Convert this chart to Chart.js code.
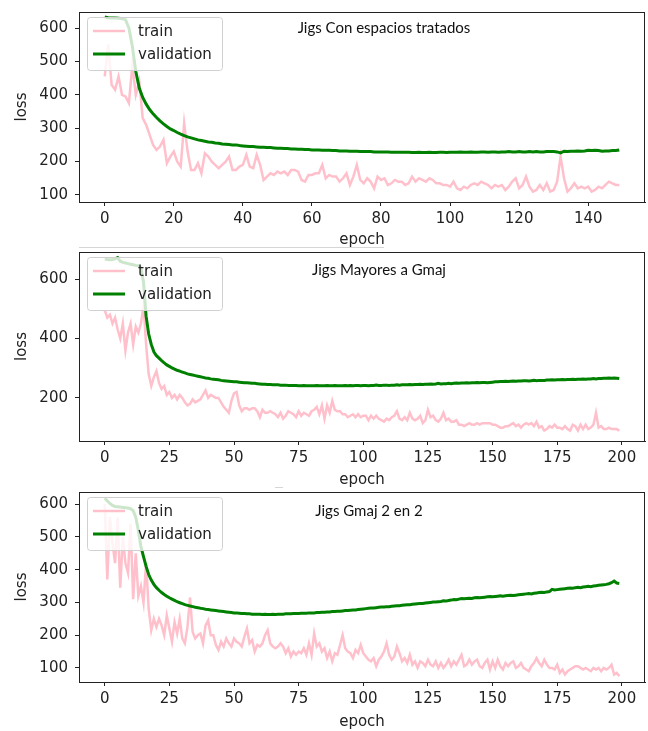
<!DOCTYPE html>
<html lang="es">
<head>
  <meta charset="UTF-8">
  <title>Jigs loss</title>
  <script src="https://cdn.jsdelivr.net/npm/chart.js"></script>
  <style>
    body {
      margin: 0;
      background: #fff;
      width: 648px;
      height: 731px;
      position: relative;
      overflow: hidden;
    }
    canvas {
      position: absolute;
      left: 0;
    }
    #c1 { top: 0; }
    #c2 { top: 250px; }
    #c3 { top: 490px; }
    .artefacto {
      position: absolute;
      background: #d6d6d6;
      height: 1px;
    }
  </style>
</head>
<body>
  <canvas id="c1" width="648" height="250"></canvas>
  <canvas id="c2" width="648" height="240"></canvas>
  <canvas id="c3" width="648" height="241"></canvas>
  <div class="artefacto" style="left:79px; top:247px; width:305px;"></div>
  <div class="artefacto" style="left:275px; top:487px; width:8px;"></div>

  <script>
    // Jigs Con espacios tratados (150 epochs)
    const trainCon = [
      455, 550, 430, 415, 455, 400, 395, 375, 490, 400,
      440, 330, 310, 280, 250, 235, 245, 265, 195, 215,
      230, 200, 185, 315, 230, 175, 175, 195, 165, 225,
      215, 200, 190, 180, 190, 200, 215, 175, 175, 185,
      190, 220, 185, 180, 220, 190, 145, 155, 165, 160,
      170, 165, 170, 160, 175, 175, 170, 145, 140, 160,
      160, 165, 165, 190, 150, 160, 155, 155, 140, 150,
      165, 130, 155, 190, 145, 135, 150, 140, 120, 155,
      145, 150, 130, 135, 145, 140, 140, 130, 135, 155,
      140, 150, 145, 140, 150, 145, 135, 135, 130, 130,
      125, 140, 120, 115, 125, 120, 130, 135, 130, 140,
      135, 130, 120, 130, 125, 130, 115, 125, 140, 150,
      120, 130, 155, 125, 110, 115, 130, 115, 135, 110,
      115, 140, 215, 150, 110, 120, 135, 120, 125, 120,
      125, 110, 115, 125, 120, 130, 140, 135, 130, 130
    ];
    const valCon = [
      633, 631, 630, 630, 629, 628, 625, 600, 545, 470,
      420, 392, 372, 356, 343, 332, 322, 313, 305, 298,
      293, 287, 282, 278, 274, 271, 268, 265, 263, 261,
      259, 258, 256, 255, 253, 252, 251, 250, 250, 248,
      247, 246, 245, 245, 244, 243, 243, 242, 242, 241,
      240, 240, 239, 239, 238, 238, 237, 237, 236, 236,
      235, 235, 235, 234, 234, 234, 233, 233, 232, 232,
      232, 231, 231, 231, 230, 230, 230, 230, 229, 229,
      229, 229, 229, 228, 228, 228, 228, 228, 228, 227,
      227, 228, 227, 227, 228, 227, 227, 228, 228, 227,
      228, 228, 228, 229, 228, 228, 229, 228, 228, 229,
      229, 228, 229, 229, 228, 229, 229, 230, 229, 229,
      230, 229, 229, 230, 229, 230, 229, 229, 230, 230,
      230, 229, 226, 231, 230, 231, 231, 232, 231, 232,
      234, 233, 234, 233, 231, 232, 232, 233, 233, 235
    ];

    // Jigs Mayores a Gmaj (200 epochs)
    const trainMay = [
      495, 470, 480, 450, 470, 430, 400, 450, 360, 420,
      450, 380, 440, 420, 450, 510, 380, 280, 240, 270,
      290, 250, 230, 240, 210, 220, 200, 210, 195, 210,
      200, 185, 175, 180, 195, 185, 190, 195, 210, 225,
      200, 210, 205, 200, 200, 185, 170, 160, 150, 190,
      215, 220, 175, 155, 165, 165, 160, 165, 165, 155,
      135, 160, 150, 150, 155, 150, 145, 135, 150, 130,
      140, 155, 150, 145, 135, 155, 140, 150, 145, 140,
      155, 160, 170, 145, 175, 130, 175, 150, 190, 160,
      155, 155, 145, 145, 135, 140, 145, 135, 145, 135,
      140, 140, 125, 140, 130, 140, 130, 125, 120, 130,
      125, 135, 140, 155, 130, 125, 135, 125, 150, 130,
      125, 130, 140, 115, 125, 160, 135, 140, 125, 120,
      130, 150, 125, 130, 120, 120, 125, 110, 110, 105,
      110, 115, 110, 110, 115, 110, 115, 115, 115, 115,
      110, 110, 105, 100, 100, 105, 105, 110, 115, 105,
      110, 100, 110, 115, 110, 115, 105, 120, 100, 105,
      90, 95, 105, 100, 110, 100, 100, 95, 105, 95,
      90, 110, 105, 90, 110, 95, 110, 95, 100, 110,
      150, 100, 105, 95, 95, 100, 95, 95, 95, 90
    ];
    const valMay = [
      667, 666, 665, 666, 668, 672, 660, 656, 654, 652,
      650, 648, 646, 645, 638, 590, 475, 415, 380, 355,
      342, 334, 325, 318, 311, 306, 301, 297, 293, 290,
      287, 284, 281, 279, 277, 275, 273, 271, 269, 267,
      266, 264, 263, 262, 261, 259, 258, 257, 256, 255,
      254, 254, 253, 252, 251, 251, 250, 249, 249, 248,
      247, 246, 246, 245, 245, 244, 244, 244, 243, 243,
      243, 242, 242, 242, 242, 241, 241, 242, 241, 241,
      241, 241, 242, 241, 241, 241, 242, 241, 241, 242,
      241, 241, 241, 242, 241, 242, 241, 242, 242, 241,
      242, 242, 241, 242, 242, 243, 242, 242, 243, 243,
      242, 243, 243, 244, 243, 244, 244, 244, 245, 244,
      245, 245, 246, 245, 246, 246, 247, 246, 247, 249,
      247, 248, 248, 249, 248, 249, 250, 249, 250, 250,
      251, 250, 251, 251, 252, 251, 252, 252, 251, 252,
      253, 254, 254, 255, 255, 256, 255, 256, 257, 256,
      257, 257, 258, 258, 257, 258, 259, 258, 259, 259,
      259, 260, 260, 261, 260, 261, 261, 262, 261, 262,
      262, 263, 262, 263, 263, 264, 263, 264, 264, 265,
      264, 265, 265, 266, 266, 267, 266, 267, 266, 265
    ];

    // Jigs Gmaj 2 en 2 (200 epochs)
    const trainGmaj = [
      600, 370, 560, 480, 420, 560, 345, 500, 420, 390,
      540, 310, 450, 320, 350, 300, 420, 280, 215, 250,
      225, 250, 230, 200, 260, 220, 180, 240, 205, 250,
      190, 175, 225, 315, 210, 190, 200, 205, 175, 230,
      245, 200, 200, 170, 155, 180, 165, 190, 175, 165,
      190, 180, 175, 165, 195, 220, 175, 185, 150, 170,
      165, 175, 200, 215, 175, 165, 160, 165, 175, 165,
      145, 160, 135, 150, 140, 150, 145, 160, 140, 175,
      140, 205, 165, 175, 150, 160, 130, 150, 120, 145,
      140, 170, 200, 160, 150, 145, 130, 155, 145, 170,
      145, 135, 125, 120, 130, 105, 125, 135, 150, 175,
      140, 125, 135, 165, 145, 120, 130, 115, 140, 110,
      120, 100, 120, 115, 105, 125, 110, 105, 120, 100,
      115, 100, 110, 125, 105, 120, 110, 125, 140, 105,
      110, 125, 110, 120, 125, 105, 100, 115, 125, 95,
      120, 100, 125, 105, 95, 115, 105, 115, 120, 100,
      105, 115, 100, 95, 90, 105, 115, 130, 115, 105,
      125, 110, 100, 100, 95, 110, 85, 95, 80, 90,
      95, 100, 105, 105, 100, 95, 100, 95, 90, 100,
      95, 100, 90, 100, 95, 100, 110, 80, 85, 75
    ];
    const valGmaj = [
      618, 610, 602, 596, 593, 592, 591, 590, 589, 588,
      586, 580, 560, 520, 470, 440, 410, 385, 368, 355,
      345, 337, 330, 324, 319, 314, 310, 306, 302, 299,
      296, 293, 291, 289, 287, 285, 284, 282, 281, 279,
      278, 277, 276, 275, 274, 273, 272, 271, 270, 269,
      268, 268, 267, 266, 266, 265, 265, 264, 264, 264,
      264, 263, 264, 263, 263, 264, 263, 264, 264, 264,
      265, 265, 265, 266, 266, 266, 267, 267, 267, 268,
      268, 268, 269, 269, 270, 270, 271, 271, 272, 272,
      273, 273, 274, 275, 275, 276, 277, 277, 278, 279,
      280, 281, 282, 283, 283, 284, 285, 286, 286, 287,
      287, 288, 289, 290, 290, 291, 292, 293, 293, 294,
      295, 296, 297, 297, 298, 299, 300, 301, 301, 302,
      303, 305, 304, 306, 307, 309, 308, 310, 312, 311,
      312, 313, 312, 314, 315, 314, 315, 316, 317, 318,
      317, 318, 319, 320, 319, 320, 321, 322, 321, 322,
      323, 324, 325, 326, 327, 326, 328, 329, 330, 331,
      330, 332, 333, 340, 338, 339, 340, 341, 342, 343,
      344, 343, 345, 346, 345, 347, 348, 349, 348, 350,
      351, 352, 353, 354, 355, 357, 360, 365, 359, 358
    ];

    // etiquetas de los ejes
    const xTicksCon = [0, 20, 40, 60, 80, 100, 120, 140];
    const xTicks200 = [0, 25, 50, 75, 100, 125, 150, 175, 200];
    const yTicksCon = [100, 200, 300, 400, 500, 600];
    const yTicksMay = [200, 400, 600];
    const yTicksGmaj = [100, 200, 300, 400, 500, 600];

    const legendLabels = ['train', 'validation'];
    const trainColor = 'pink';
    const valColor = 'green';
    const trainWidth = 2.5;
    const valWidth = 3;
    const textColor = '#222';
    const baseFont = { family: "'DejaVu Sans', sans-serif", size: 15 };

    // marco completo, leyenda semitransparente y texto del subtitulo
    const extras = {
      id: 'extras',
      afterDatasetsDraw(chart, args, opts) {
        const { ctx, chartArea: a } = chart;
        ctx.save();
        // leyenda
        const lx = a.left + 8, ly = a.top + opts.legendDy;
        ctx.beginPath();
        ctx.roundRect(lx + 0.5, ly + 0.5, 135, 53, 3);
        ctx.fillStyle = 'rgba(255,255,255,0.8)';
        ctx.fill();
        ctx.strokeStyle = '#d0d0d0';
        ctx.lineWidth = 1;
        ctx.stroke();
        const colors = [trainColor, valColor];
        const widths = [trainWidth, valWidth];
        ctx.font = "15px 'DejaVu Sans', sans-serif";
        ctx.textBaseline = 'middle';
        legendLabels.forEach((t, i) => {
          const yy = ly + 14 + i * 23;
          ctx.beginPath();
          ctx.moveTo(lx + 6, yy);
          ctx.lineTo(lx + 38, yy);
          ctx.strokeStyle = colors[i];
          ctx.lineWidth = widths[i];
          ctx.stroke();
          ctx.fillStyle = textColor;
          ctx.fillText(t, lx + 51, yy + 1);
        });
        // subtitulo
        ctx.font = "15px Lato, sans-serif";
        ctx.textAlign = 'center';
        ctx.fillStyle = '#111';
        ctx.fillText(opts.text, opts.textX, a.top + opts.textDy);
        // marco
        ctx.strokeStyle = '#222';
        ctx.lineWidth = 1;
        ctx.strokeRect(a.left + 0.5, a.top + 0.5, a.right - a.left - 1, a.bottom - a.top);
        ctx.restore();
      }
    };

    function crearGrafica(id, train, val, cfg) {
      const pts = arr => arr.map((v, i) => ({ x: i, y: v }));
      return new Chart(document.getElementById(id), {
        type: 'line',
        data: {
          datasets: [
            { label: legendLabels[0], data: pts(train), borderColor: trainColor, borderWidth: trainWidth, pointRadius: 0, order: 1 },
            { label: legendLabels[1], data: pts(val), borderColor: valColor, borderWidth: valWidth, pointRadius: 0, order: 0 }
          ]
        },
        options: {
          responsive: false,
          animation: false,
          layout: { padding: { top: cfg.top, right: 3, left: 0, bottom: 0 } },
          plugins: {
            legend: { display: false },
            tooltip: { enabled: false },
            extras: { text: cfg.text, textX: cfg.textX, textDy: cfg.textDy, legendDy: cfg.legendDy }
          },
          scales: {
            x: {
              type: 'linear',
              min: cfg.xMin,
              max: cfg.xMax,
              afterBuildTicks: s => { s.ticks = cfg.xTicks.map(v => ({ value: v })); },
              afterFit: s => { s.height = cfg.xh; s.paddingLeft = 0; s.paddingRight = 0; },
              grid: { drawOnChartArea: false, drawTicks: true, tickLength: 4, tickColor: textColor },
              border: { color: textColor, width: 1 },
              ticks: { color: textColor, font: baseFont, padding: 4, maxRotation: 0, autoSkip: false },
              title: { display: true, text: 'epoch', color: textColor, font: baseFont, padding: { top: 0, bottom: cfg.titlePad } }
            },
            y: {
              min: cfg.yMin,
              max: cfg.yMax,
              afterBuildTicks: s => { s.ticks = cfg.yTicks.map(v => ({ value: v })); },
              afterFit: s => { s.width = 79; s.paddingTop = 0; s.paddingBottom = 0; },
              grid: { drawOnChartArea: false, drawTicks: true, tickLength: 4, tickColor: textColor },
              border: { color: textColor, width: 1 },
              ticks: { color: textColor, font: baseFont, padding: 7, autoSkip: false },
              title: { display: true, text: 'loss', color: textColor, font: baseFont, padding: { top: 13, bottom: 0 } }
            }
          }
        },
        plugins: [extras]
      });
    }

    crearGrafica('c1', trainCon, valCon, {
      top: 12, xh: 48, titlePad: 1, xMin: -7.45, xMax: 156.45, xTicks: xTicksCon,
      yMin: 79, yMax: 648, yTicks: yTicksCon,
      text: 'Jigs Con espacios tratados', textX: 384, textDy: 16, legendDy: 5
    });
    crearGrafica('c2', trainMay, valMay, {
      top: 2, xh: 49, titlePad: 1, xMin: -9.95, xMax: 208.95, xTicks: xTicks200,
      yMin: 55, yMax: 691, yTicks: yTicksMay,
      text: 'Jigs Mayores a Gmaj', textX: 379, textDy: 18, legendDy: 5
    });
    crearGrafica('c3', trainGmaj, valGmaj, {
      top: 2, xh: 49, titlePad: 0, xMin: -9.95, xMax: 208.95, xTicks: xTicks200,
      yMin: 57, yMax: 637, yTicks: yTicksGmaj,
      text: 'Jigs Gmaj 2 en 2', textX: 369, textDy: 19, legendDy: 5
    });
  </script>
</body>
</html>
